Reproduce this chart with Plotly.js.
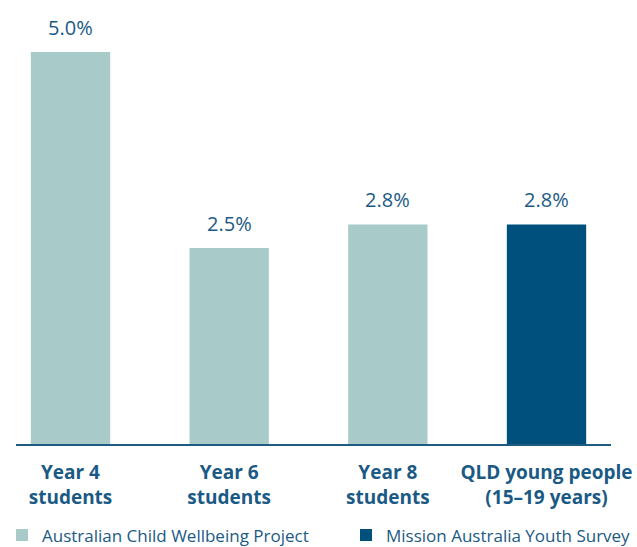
<!DOCTYPE html>
<html>
<head>
<meta charset="utf-8">
<script src="https://cdn.plot.ly/plotly-3.0.1.min.js"></script>
<style>html,body{margin:0;padding:0;background:#fff;}#chart{width:637px;height:547px;}</style>
</head>
<body>
<div id="chart"></div>
<script>
const categories = ['Year 4<br>students', 'Year 6<br>students', 'Year 8<br>students', 'QLD young people<br>(15–19 years)'];
const acwpCategories = ['Year 4<br>students', 'Year 6<br>students', 'Year 8<br>students'];
const acwpValues = [5.0, 2.5, 2.8];
const maysCategories = ['QLD young people<br>(15–19 years)'];
const maysValues = [2.8];
const seriesNames = ['Australian Child Wellbeing Project', 'Mission Australia Youth Survey'];

const textColor = '#1b5a84';
const fontFam = '"Open Sans", "Noto Sans", sans-serif';

const traces = [
  {type: 'bar', name: seriesNames[0], x: acwpCategories, y: acwpValues,
   marker: {color: '#a8cbc9'}, hoverinfo: 'skip', legend: 'legend'},
  {type: 'bar', name: seriesNames[1], x: maysCategories, y: maysValues,
   marker: {color: '#00507d'}, hoverinfo: 'skip', legend: 'legend2'}
];

const annotations = [];
acwpCategories.forEach((c, i) => annotations.push({x: c, y: acwpValues[i]}));
maysCategories.forEach((c, i) => annotations.push({x: c, y: maysValues[i]}));
annotations.forEach(a => {
  Object.assign(a, {xref: 'x', yref: 'y', text: a.y.toFixed(1) + '%', showarrow: false,
    yanchor: 'bottom', yshift: 9, font: {family: fontFam, size: 20, color: textColor}});
});

const legendCommon = {orientation: 'h', xanchor: 'left', yanchor: 'middle',
  xref: 'container', yref: 'container', y: 0.021, borderwidth: 0, bgcolor: 'rgba(0,0,0,0)',
  font: {family: fontFam, size: 17, color: textColor}};

const layout = {
  width: 637, height: 547,
  margin: {l: 16, r: 26, t: 20, b: 103, autoexpand: false},
  paper_bgcolor: '#ffffff', plot_bgcolor: '#ffffff',
  barmode: 'overlay', bargap: 0.5,
  showlegend: true,
  xaxis: {type: 'category', categoryorder: 'array', categoryarray: categories,
    range: [-0.3435, 3.4065], showgrid: false, zeroline: false, automargin: false,
    showline: true, linecolor: '#1f5a80', linewidth: 2,
    tickvals: categories, ticktext: categories.map(c => '<b>' + c + '</b>'),
    ticks: 'outside', ticklen: 10, tickcolor: 'rgba(0,0,0,0)',
    tickfont: {family: fontFam, size: 19, color: textColor}, fixedrange: true},
  yaxis: {range: [0, 5.408], visible: false, fixedrange: true, automargin: false},
  legend: Object.assign({}, legendCommon, {x: 2 / 637}),
  legend2: Object.assign({}, legendCommon, {x: 346 / 637}),
  annotations: annotations
};

Plotly.newPlot('chart', traces, layout, {displayModeBar: false, staticPlot: true});
</script>
</body>
</html>
